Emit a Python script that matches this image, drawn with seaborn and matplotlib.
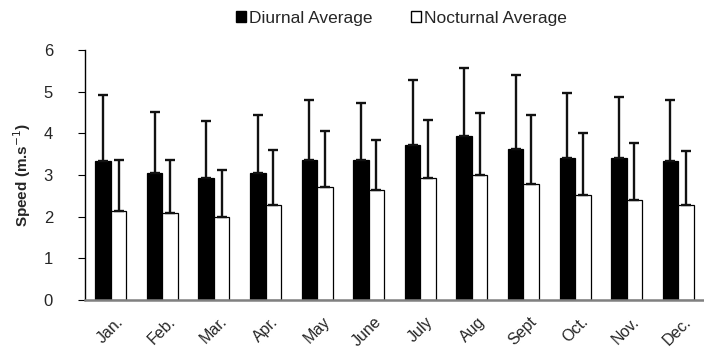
import numpy as np
import pandas as pd
import matplotlib
matplotlib.use("Agg")
import matplotlib.pyplot as plt
import seaborn as sns
from matplotlib.patches import Patch

months = ["Jan.", "Feb.", "Mar.", "Apr.", "May", "June",
          "July", "Aug", "Sept", "Oct.", "Nov.", "Dec."]
diurnal_avg = [3.33, 3.06, 2.93, 3.06, 3.37, 3.37, 3.72, 3.93, 3.63, 3.40, 3.40, 3.33]
diurnal_sd = [1.59, 1.46, 1.36, 1.38, 1.42, 1.36, 1.57, 1.64, 1.76, 1.57, 1.48, 1.48]
nocturnal_avg = [2.13, 2.10, 2.00, 2.28, 2.71, 2.63, 2.93, 3.01, 2.79, 2.53, 2.40, 2.27]
nocturnal_sd = [1.22, 1.25, 1.12, 1.31, 1.34, 1.20, 1.39, 1.47, 1.65, 1.47, 1.37, 1.30]
series = ["Diurnal Average", "Nocturnal Average"]

sns.set_style("white")
plt.rcParams["font.family"] = ["Liberation Sans", "DejaVu Sans"]

df = pd.DataFrame({
    "Month": months * 2,
    "Speed": diurnal_avg + nocturnal_avg,
    "SD": diurnal_sd + nocturnal_sd,
    "Series": [series[0]] * 12 + [series[1]] * 12,
})

fig = plt.figure(figsize=(7.04, 3.63), dpi=100)
ax = fig.add_axes([85 / 704, 1 - 300 / 363, 1 - 85 / 704, 250 / 363])

sns.barplot(data=df, x="Month", y="Speed", hue="Series", order=months,
            hue_order=series, palette=["black", "white"], width=0.6,
            edgecolor="black", linewidth=0.9, errorbar=None, legend=False, ax=ax)

# one-sided (upper) error bars at the bar centres
for i, s in enumerate(series):
    sub = df[df["Series"] == s]
    xs = np.arange(12) + (-0.15 if i == 0 else 0.15)
    ax.errorbar(xs, sub["Speed"], yerr=[np.zeros(12), sub["SD"]], fmt="none",
                ecolor="#111111", elinewidth=1.7, capsize=3.6, capthick=1.7, zorder=3)

ax.set_ylim(0, 6)
ax.set_yticks(range(0, 7))
ax.set_xlim(-0.5, 11.33)
ax.set_xticks(np.arange(12) + 0.1)
ax.set_xticklabels(months, rotation=45, ha="right", rotation_mode="anchor", fontsize=11.5)
ax.tick_params(axis="x", length=0, pad=10)
ax.set_xticks(np.arange(-0.5, 12, 1), minor=True)
ax.tick_params(axis="x", which="minor", length=5, color="#808080", direction="out")
ax.tick_params(axis="y", labelsize=12, length=5, direction="out", left=True,
               color="black", pad=18)
ax.set_xlabel("")
ax.set_ylabel("Speed (m.s$^{-1}$)", fontsize=11, fontweight="bold", labelpad=8)

for sp in ["top", "right"]:
    ax.spines[sp].set_visible(False)
ax.spines["left"].set_color("black")
ax.spines["left"].set_linewidth(1.0)
ax.spines["bottom"].set_color("#808080")
ax.spines["bottom"].set_linewidth(1.8)

handles = [Patch(facecolor="black", edgecolor="black", label=series[0]),
           Patch(facecolor="white", edgecolor="black", label=series[1])]
fig.legend(handles=handles, loc="center", bbox_to_anchor=(0.57, 0.95), ncol=2,
           frameon=False, fontsize=12.5, handlelength=0.6, handleheight=0.6,
           handletextpad=0.15, columnspacing=2.2)

fig.savefig("out.png", dpi=100)
